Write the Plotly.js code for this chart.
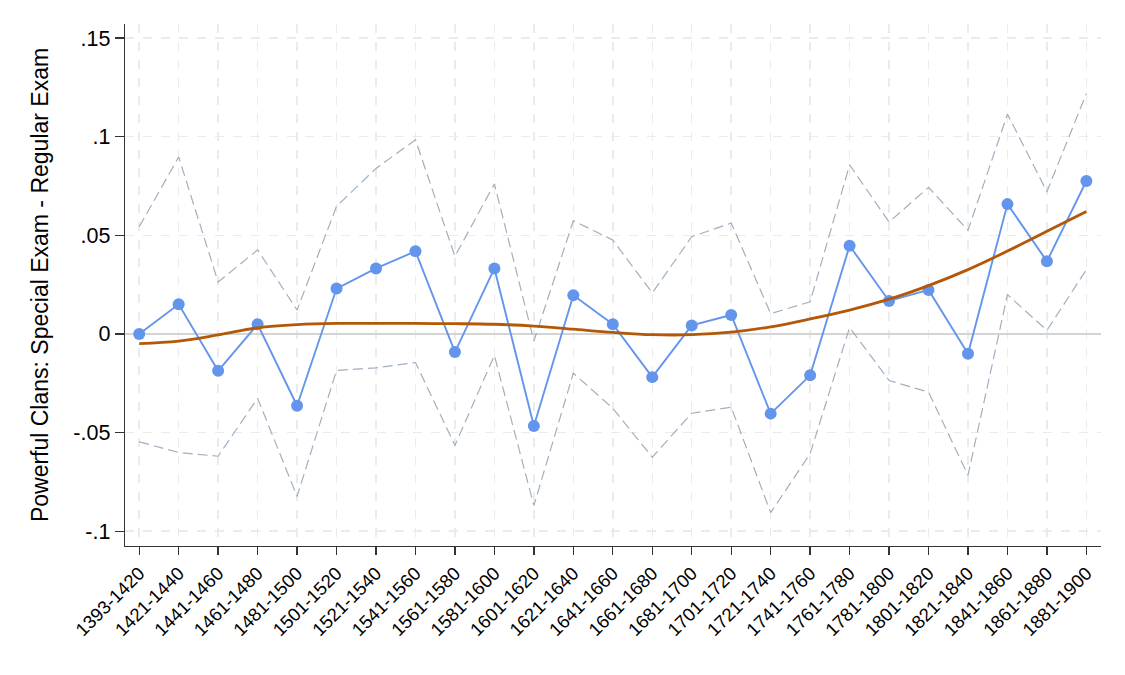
<!DOCTYPE html>
<html>
<head>
<meta charset="utf-8">
<script src="https://cdn.plot.ly/plotly-3.0.1.min.js"></script>
<style>html,body{margin:0;padding:0;background:#fff;}#chart{width:1125px;height:675px;}</style>
</head>
<body>
<div id="chart"></div>
<script>
const periods = ["1393-1420","1421-1440","1441-1460","1461-1480","1481-1500","1501-1520","1521-1540","1541-1560","1561-1580","1581-1600","1601-1620","1621-1640","1641-1660","1661-1680","1681-1700","1701-1720","1721-1740","1741-1760","1761-1780","1781-1800","1801-1820","1821-1840","1841-1860","1861-1880","1881-1900"];
const estimate = [0.0000,0.0150,-0.0187,0.0049,-0.0364,0.0230,0.0332,0.0419,-0.0092,0.0332,-0.0467,0.0196,0.0049,-0.0219,0.0043,0.0096,-0.0404,-0.0210,0.0447,0.0167,0.0223,-0.0100,0.0658,0.0368,0.0775];
const ciUpper = [0.0543,0.0897,0.0263,0.0426,0.0121,0.0647,0.0839,0.0984,0.0393,0.0761,-0.0036,0.0574,0.0476,0.0208,0.0493,0.0562,0.0103,0.0163,0.0857,0.0567,0.0743,0.0525,0.1114,0.0721,0.1219];
const ciLower = [-0.0547,-0.0601,-0.0620,-0.0326,-0.0824,-0.0185,-0.0172,-0.0145,-0.0565,-0.0109,-0.0870,-0.0199,-0.0377,-0.0625,-0.0402,-0.0371,-0.0906,-0.0607,0.0033,-0.0236,-0.0295,-0.0716,0.0199,0.0018,0.0326];
const fitted = [-0.0049,-0.0036,-0.0005,0.0031,0.0047,0.0053,0.0053,0.0053,0.0052,0.0049,0.0040,0.0024,0.0008,-0.0004,-0.0004,0.0009,0.0036,0.0076,0.0121,0.0176,0.0245,0.0326,0.0420,0.0520,0.0620];
const yTickVals = [-0.1,-0.05,0,0.05,0.1,0.15];
const yTickText = ["-.1","-.05","0",".05",".1",".15"];

const idx = periods.map((_, i) => i);
const ciStyle = {color: 'rgb(160,176,192)', width: 1.2, dash: '10px,5px'};

const traces = [
  {x: idx, y: ciUpper, type: 'scatter', mode: 'lines', line: ciStyle, hoverinfo: 'skip', showlegend: false},
  {x: idx, y: ciLower, type: 'scatter', mode: 'lines', line: ciStyle, hoverinfo: 'skip', showlegend: false},
  {x: idx, y: estimate, type: 'scatter', mode: 'lines+markers', line: {color: '#6495ED', width: 1.9}, marker: {color: '#6495ED', size: 12}, showlegend: false},
  {x: idx, y: fitted, type: 'scatter', mode: 'lines', line: {color: '#B35806', width: 2.8, shape: 'spline'}, showlegend: false}
];

const layout = {
  width: 1125, height: 675,
  paper_bgcolor: '#ffffff', plot_bgcolor: '#ffffff',
  margin: {l: 125, r: 24, t: 24, b: 129},
  font: {family: 'Liberation Sans, Arial, sans-serif', color: '#000'},
  showlegend: false,
  xaxis: {
    range: [-0.36, 24.37],
    tickvals: idx, ticktext: periods, tickangle: -45,
    tickfont: {size: 18.5, color: '#000'},
    ticks: 'outside', ticklen: 8, tickwidth: 1.3, tickcolor: '#333',
    showline: true, linecolor: '#333', linewidth: 1.3,
    showgrid: true, gridcolor: '#ebebeb', gridwidth: 1.5, griddash: 'dash',
    zeroline: false, mirror: false
  },
  yaxis: {
    range: [-0.1075, 0.1571],
    tickvals: yTickVals, ticktext: yTickText,
    tickfont: {size: 21.5, color: '#000'},
    ticks: 'outside', ticklen: 9, tickwidth: 1.3, tickcolor: '#333',
    showline: true, linecolor: '#333', linewidth: 1.3,
    showgrid: true, gridcolor: '#ebebeb', gridwidth: 1.5, griddash: 'dash',
    zeroline: true, zerolinecolor: '#d4d4d4', zerolinewidth: 1.6,
    title: {text: 'Powerful Clans: Special Exam - Regular Exam', font: {size: 23, color: '#000'}, standoff: 18}
  }
};

Plotly.newPlot('chart', traces, layout, {displayModeBar: false, staticPlot: true});
</script>
</body>
</html>
